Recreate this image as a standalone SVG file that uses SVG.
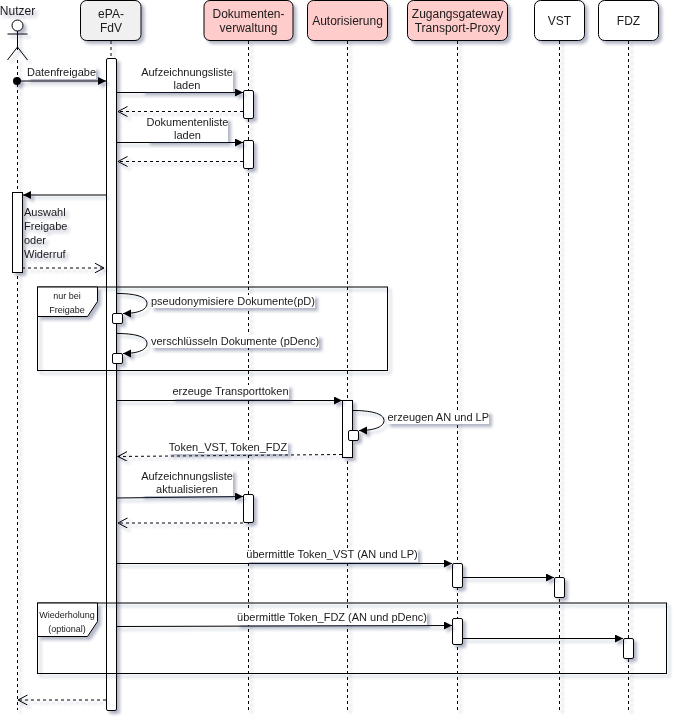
<svg xmlns="http://www.w3.org/2000/svg" width="679" height="723" viewBox="0 0 679 723">
<style>
text{font-family:"Liberation Sans",Arial,sans-serif;font-size:11px;fill:#1a1a1a}
.c{text-anchor:middle}
.n{font-size:12px}
.s{font-size:9px}
.shape{stroke:#000;stroke-width:1;fill:#fff}
.ll{stroke:#000;stroke-width:1;stroke-dasharray:3 3;fill:none}
.m{stroke:#000;stroke-width:1;fill:none;marker-end:url(#block)}
.r{stroke:#000;stroke-width:1;stroke-dasharray:3 3;fill:none;marker-end:url(#open)}
.sh{filter:url(#shadow)}
.bg{fill:#fff;stroke:none}
</style>
<defs>
<filter id="shadow" x="-30%" y="-30%" width="170%" height="170%"><feDropShadow dx="3" dy="3" stdDeviation="1.5" flood-color="#2a3560" flood-opacity="0.35"/></filter>
<marker id="block" markerUnits="userSpaceOnUse" markerWidth="10" markerHeight="10" refX="8" refY="4" orient="auto"><path d="M0 0L8 4L0 8Z" fill="#000"/></marker>
<marker id="open" markerUnits="userSpaceOnUse" markerWidth="12" markerHeight="12" refX="9.5" refY="5" orient="auto"><path d="M0 0L9.5 5L0 10" fill="none" stroke="#000"/></marker>
<marker id="dot" markerUnits="userSpaceOnUse" markerWidth="10" markerHeight="10" refX="5" refY="5"><circle cx="5" cy="5" r="4" fill="#000"/></marker>
</defs>
<rect width="679" height="723" fill="#fff"/>

<g id="lifelines" class="sh">
<path class="ll" d="M17.5 60V710"/>
<path class="ll" d="M111 41V710"/>
<path class="ll" d="M248.5 41V710"/>
<path class="ll" d="M347.5 41V710"/>
<path class="ll" d="M457.5 41V710"/>
<path class="ll" d="M559.5 41V710"/>
<path class="ll" d="M628.5 41V710"/>
</g>

<g id="nutzer" class="sh">
<text class="c n" x="17.5" y="15">Nutzer</text>
<circle cx="17.5" cy="25.5" r="5.5" fill="#fff" stroke="#000"/>
<path d="M17.5 31V50M7.5 34H27.5M17.5 47L7.5 60M17.5 47L27.5 60" fill="none" stroke="#000"/>
<rect class="shape" x="12.5" y="192.5" width="10" height="80"/>
</g>
<g id="epa-fdv" class="sh">
<rect x="80.5" y="0.5" width="60.5" height="40" rx="6" fill="#f0f0f0" stroke="#000"/>
<text class="c n" x="111" y="18">ePA-</text>
<text class="c n" x="111" y="32">FdV</text>
<rect class="shape" x="106.5" y="58.5" width="10" height="652" rx="1.5"/>
<rect class="shape" x="112.5" y="313.5" width="10" height="10" rx="1.5"/>
<rect class="shape" x="112.5" y="353.5" width="10" height="10" rx="1.5"/>
</g>
<g id="dokumentenverwaltung" class="sh">
<rect x="204" y="0.5" width="89" height="40" rx="6" fill="#ffcccc" stroke="#000"/>
<text class="c n" x="248.5" y="18">Dokumenten-</text>
<text class="c n" x="248.5" y="32">verwaltung</text>
<rect class="shape" x="243.5" y="90.5" width="10" height="28" rx="1.5"/>
<rect class="shape" x="243.5" y="140.5" width="10" height="28" rx="1.5"/>
<rect class="shape" x="243.5" y="494.5" width="10" height="28" rx="1.5"/>
</g>
<g id="autorisierung" class="sh">
<rect x="307.5" y="0.5" width="80" height="40" rx="6" fill="#ffcccc" stroke="#000"/>
<text class="c n" x="347.5" y="25">Autorisierung</text>
<rect class="shape" x="342.5" y="400.5" width="10" height="57"/>
<rect class="shape" x="348.5" y="430.5" width="10" height="10" rx="1.5"/>
</g>
<g id="zugangsgateway" class="sh">
<rect x="407.5" y="0.5" width="100" height="40" rx="6" fill="#ffcccc" stroke="#000"/>
<text class="c n" x="457.5" y="18">Zugangsgateway</text>
<text class="c n" x="457.5" y="32">Transport-Proxy</text>
<rect class="shape" x="452.5" y="563.5" width="10" height="24" rx="1.5"/>
<rect class="shape" x="452.5" y="618.5" width="10" height="26" rx="1.5"/>
</g>
<g id="vst" class="sh">
<rect x="534.5" y="0.5" width="50" height="40" rx="6" fill="#fff" stroke="#000"/>
<text class="c n" x="559.5" y="25">VST</text>
<rect class="shape" x="554.5" y="577.5" width="10" height="20" rx="1.5"/>
</g>
<g id="fdz" class="sh">
<rect x="598.5" y="0.5" width="60" height="40" rx="6" fill="#fff" stroke="#000"/>
<text class="c n" x="628.5" y="25">FDZ</text>
<rect class="shape" x="623.5" y="638.5" width="10" height="20" rx="1.5"/>
</g>

<g id="frame-freigabe" class="sh">
<rect x="37.5" y="287" width="350" height="83.5" fill="none" stroke="#000"/>
<path class="shape" d="M37.5 287H97.5V301.5L87.5 316.5H37.5Z"/>
<text class="c s" x="67" y="299">nur bei</text>
<text class="c s" x="67" y="313">Freigabe</text>
</g>
<g id="frame-wiederholung" class="sh">
<rect x="37.5" y="603" width="629" height="70.5" fill="none" stroke="#000"/>
<path class="shape" d="M37.5 603H97.5V621.5L87.5 636.5H37.5Z"/>
<text class="c s" x="67" y="618">Wiederholung</text>
<text class="c s" x="67" y="632">(optional)</text>
</g>

<g id="connectors">
<g class="sh">
<path class="m" marker-start="url(#dot)" d="M17 81H106"/>
<path class="m" d="M116 92.5H243"/>
<path class="r" d="M243 111.5H118"/>
<path class="m" d="M116 142.5H243"/>
<path class="r" d="M243 161.5H118"/>
<path class="m" d="M106 195H23"/>
<path class="r" d="M22 268H104"/>
<path class="m" d="M117 293.5C133 293.5 147 296 147 303.5C147 311 135 313.5 123 313.5"/>
<path class="m" d="M117 333.5C133 333.5 147 336 147 343.5C147 351 135 353.5 123 353.5"/>
<path class="m" d="M116 400.5H342"/>
<path class="m" d="M353 410.5C369 410.5 384 413 384 420.5C384 428 371 430.5 359 430.5"/>
<path class="r" d="M342 454.5L118 456.5"/>
<path class="m" d="M116 498L243 496.5"/>
<path class="r" d="M243 523H118"/>
<path class="m" d="M116 563.5H452"/>
<path class="m" d="M462 577.5H554"/>
<path class="m" d="M116 626.5L452 625.5"/>
<path class="m" d="M462 638.5H623"/>
<path class="r" d="M106 700H18"/>
</g>
<g id="message-labels" class="sh">
<rect class="bg" x="27" y="67" width="69" height="12"/><text class="c" x="61.5" y="76">Datenfreigabe</text>
<rect class="bg" x="142" y="68" width="91" height="24"/><text class="c" x="187" y="76">Aufzeichnungsliste</text><text class="c" x="187" y="89">laden</text>
<rect class="bg" x="147" y="118" width="81" height="24"/><text class="c" x="187.5" y="126">Dokumentenliste</text><text class="c" x="187.5" y="139">laden</text>
<text x="24" y="216">Auswahl</text><text x="24" y="230">Freigabe</text><text x="24" y="244">oder</text><text x="24" y="258">Widerruf</text>
<rect class="bg" x="151" y="295" width="164" height="13"/><text x="151" y="305">pseudonymisiere Dokumente(pD)</text>
<rect class="bg" x="151" y="335" width="168" height="13"/><text x="151" y="345">verschlüsseln Dokumente (pDenc)</text>
<rect class="bg" x="172" y="385" width="117" height="14"/><text class="c" x="230.5" y="395">erzeuge Transporttoken</text>
<rect class="bg" x="387" y="411" width="102" height="13"/><text x="387.5" y="421">erzeugen AN und LP</text>
<rect class="bg" x="168" y="441" width="120" height="13"/><text class="c" x="228" y="451">Token_VST, Token_FDZ</text>
<rect class="bg" x="141" y="470" width="92" height="26"/><text class="c" x="187" y="480">Aufzeichnungsliste</text><text class="c" x="187" y="493">aktualisieren</text>
<rect class="bg" x="246" y="548" width="172" height="14"/><text class="c" x="332" y="558">übermittle Token_VST (AN und LP)</text>
<rect class="bg" x="237" y="611" width="190" height="14"/><text class="c" x="332" y="621">übermittle Token_FDZ (AN und pDenc)</text>
</g>
</g>
</svg>
